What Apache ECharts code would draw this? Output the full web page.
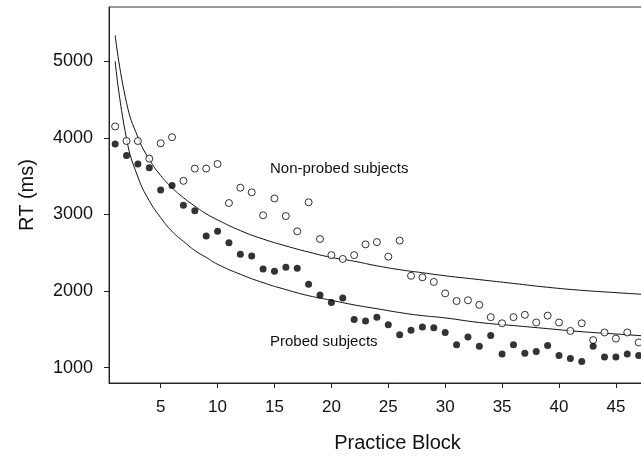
<!DOCTYPE html>
<html>
<head>
<meta charset="utf-8">
<title>RT by practice block</title>
<script src="https://cdn.jsdelivr.net/npm/echarts@6/dist/echarts.min.js"></script>
<style>
  html, body { margin: 0; padding: 0; background: #fff; overflow: hidden; }
  #chart { width: 690px; height: 469px; }
</style>
</head>
<body>
<div id="chart"></div>
<script>
// 数据：练习块与反应时(ms)
var blocks = [1,2,3,4,5,6,7,8,9,10,11,12,13,14,15,16,17,18,19,20,21,22,23,24,25,26,27,28,29,30,31,32,33,34,35,36,37,38,39,40,41,42,43,44,45,46,47];
var nonProbed = [4150,3960,3960,3730,3930,4010,3440,3600,3600,3660,
                 3150,3350,3290,2990,3210,2980,2780,3160,2680,2470,
                 2420,2470,2610,2640,2450,2660,2200,2180,2120,1970,
                 1870,1880,1820,1660,1580,1660,1690,1590,1680,1590,
                 1480,1580,1360,1460,1380,1460,1330];
var probed = [3920,3770,3660,3610,3320,3380,3120,3050,2720,2780,
              2630,2480,2460,2290,2260,2310,2300,2090,1950,1850,
              1910,1630,1610,1660,1560,1430,1490,1530,1520,1460,
              1300,1400,1280,1420,1180,1300,1190,1210,1290,1160,
              1120,1080,1280,1140,1140,1180,1160];

// 拟合曲线
var fitBlocks = [1,2,3,4,5,6,7,8,9,10,12,14,16,18,20,22,24,26,28,30,33,36,39,42,45,48,51];
var nonProbedFit = [5340,4460,4010,3720,3510,3350,3220,3110,3010,2930,2790,2680,2590,2510,2440,2390,2330,2280,2240,2200,2150,2100,2050,2010,1980,1950,1910];
var probedFit = [5000,3990,3490,3180,2960,2780,2650,2530,2440,2350,2220,2110,2020,1940,1880,1820,1770,1720,1680,1650,1590,1550,1510,1470,1440,1410,1380];

var yTicks = [1000, 2000, 3000, 4000, 5000];
var xTicks = [5, 10, 15, 20, 25, 30, 35, 40, 45];

function pairs(xs, ys) {
    var out = [];
    for (var i = 0; i < ys.length; i++) {
        out.push([xs[i], ys[i]]);
    }
    return out;
}

function plain(v) {
    return String(v);
}

var font = 'Liberation Sans, Arial, sans-serif';
var myChart = echarts.init(document.getElementById('chart'), null, { renderer: 'canvas' });

myChart.setOption({
    backgroundColor: '#fff',
    animation: false,
    grid: {
        left: 109, top: 7, right: 4, bottom: 86,
        show: true, borderColor: '#333', borderWidth: 1
    },
    xAxis: {
        type: 'value',
        min: 0.46, max: 51.16,
        name: 'Practice Block',
        nameLocation: 'middle',
        nameGap: 50,
        nameTextStyle: { fontSize: 20, color: '#111', fontFamily: font },
        axisLine: { show: true, onZero: false, lineStyle: { color: '#222', width: 1 } },
        axisTick: { show: true, inside: false, length: 5, customValues: xTicks, lineStyle: { color: '#222' } },
        axisLabel: { customValues: xTicks, formatter: plain, margin: 16, fontSize: 17, color: '#111', fontFamily: font },
        splitLine: { show: false }
    },
    yAxis: {
        type: 'value',
        min: 800, max: 5710,
        name: 'RT (ms)',
        nameLocation: 'middle',
        nameGap: 72,
        nameTextStyle: { fontSize: 20, color: '#111', fontFamily: font },
        axisLine: { show: true, lineStyle: { color: '#222', width: 1 } },
        axisTick: { show: true, inside: false, length: 5, customValues: yTicks, lineStyle: { color: '#222' } },
        axisLabel: { customValues: yTicks, formatter: plain, margin: 16, fontSize: 18, color: '#111', fontFamily: font },
        splitLine: { show: false }
    },
    series: [
        {
            name: 'Non-probed fit', type: 'line', data: pairs(fitBlocks, nonProbedFit),
            smooth: 0.5, showSymbol: false, symbol: 'none',
            lineStyle: { color: '#111', width: 1 }, z: 3
        },
        {
            name: 'Probed fit', type: 'line', data: pairs(fitBlocks, probedFit),
            smooth: 0.5, showSymbol: false, symbol: 'none',
            lineStyle: { color: '#111', width: 1 }, z: 3
        },
        {
            name: 'Non-probed subjects', type: 'scatter', data: pairs(blocks, nonProbed),
            symbol: 'circle', symbolSize: 7,
            itemStyle: { color: '#fff', borderColor: '#000', borderWidth: 1 }, z: 4
        },
        {
            name: 'Probed subjects', type: 'scatter', data: pairs(blocks, probed),
            symbol: 'circle', symbolSize: 7,
            itemStyle: { color: '#000' }, z: 5
        }
    ],
    graphic: [
        { type: 'text', left: 270, top: 161, style: { text: 'Non-probed subjects', fontSize: 15, fill: '#111', fontFamily: font } },
        { type: 'text', left: 270, top: 334, style: { text: 'Probed subjects', fontSize: 15, fill: '#111', fontFamily: font } }
    ]
});
</script>
</body>
</html>
